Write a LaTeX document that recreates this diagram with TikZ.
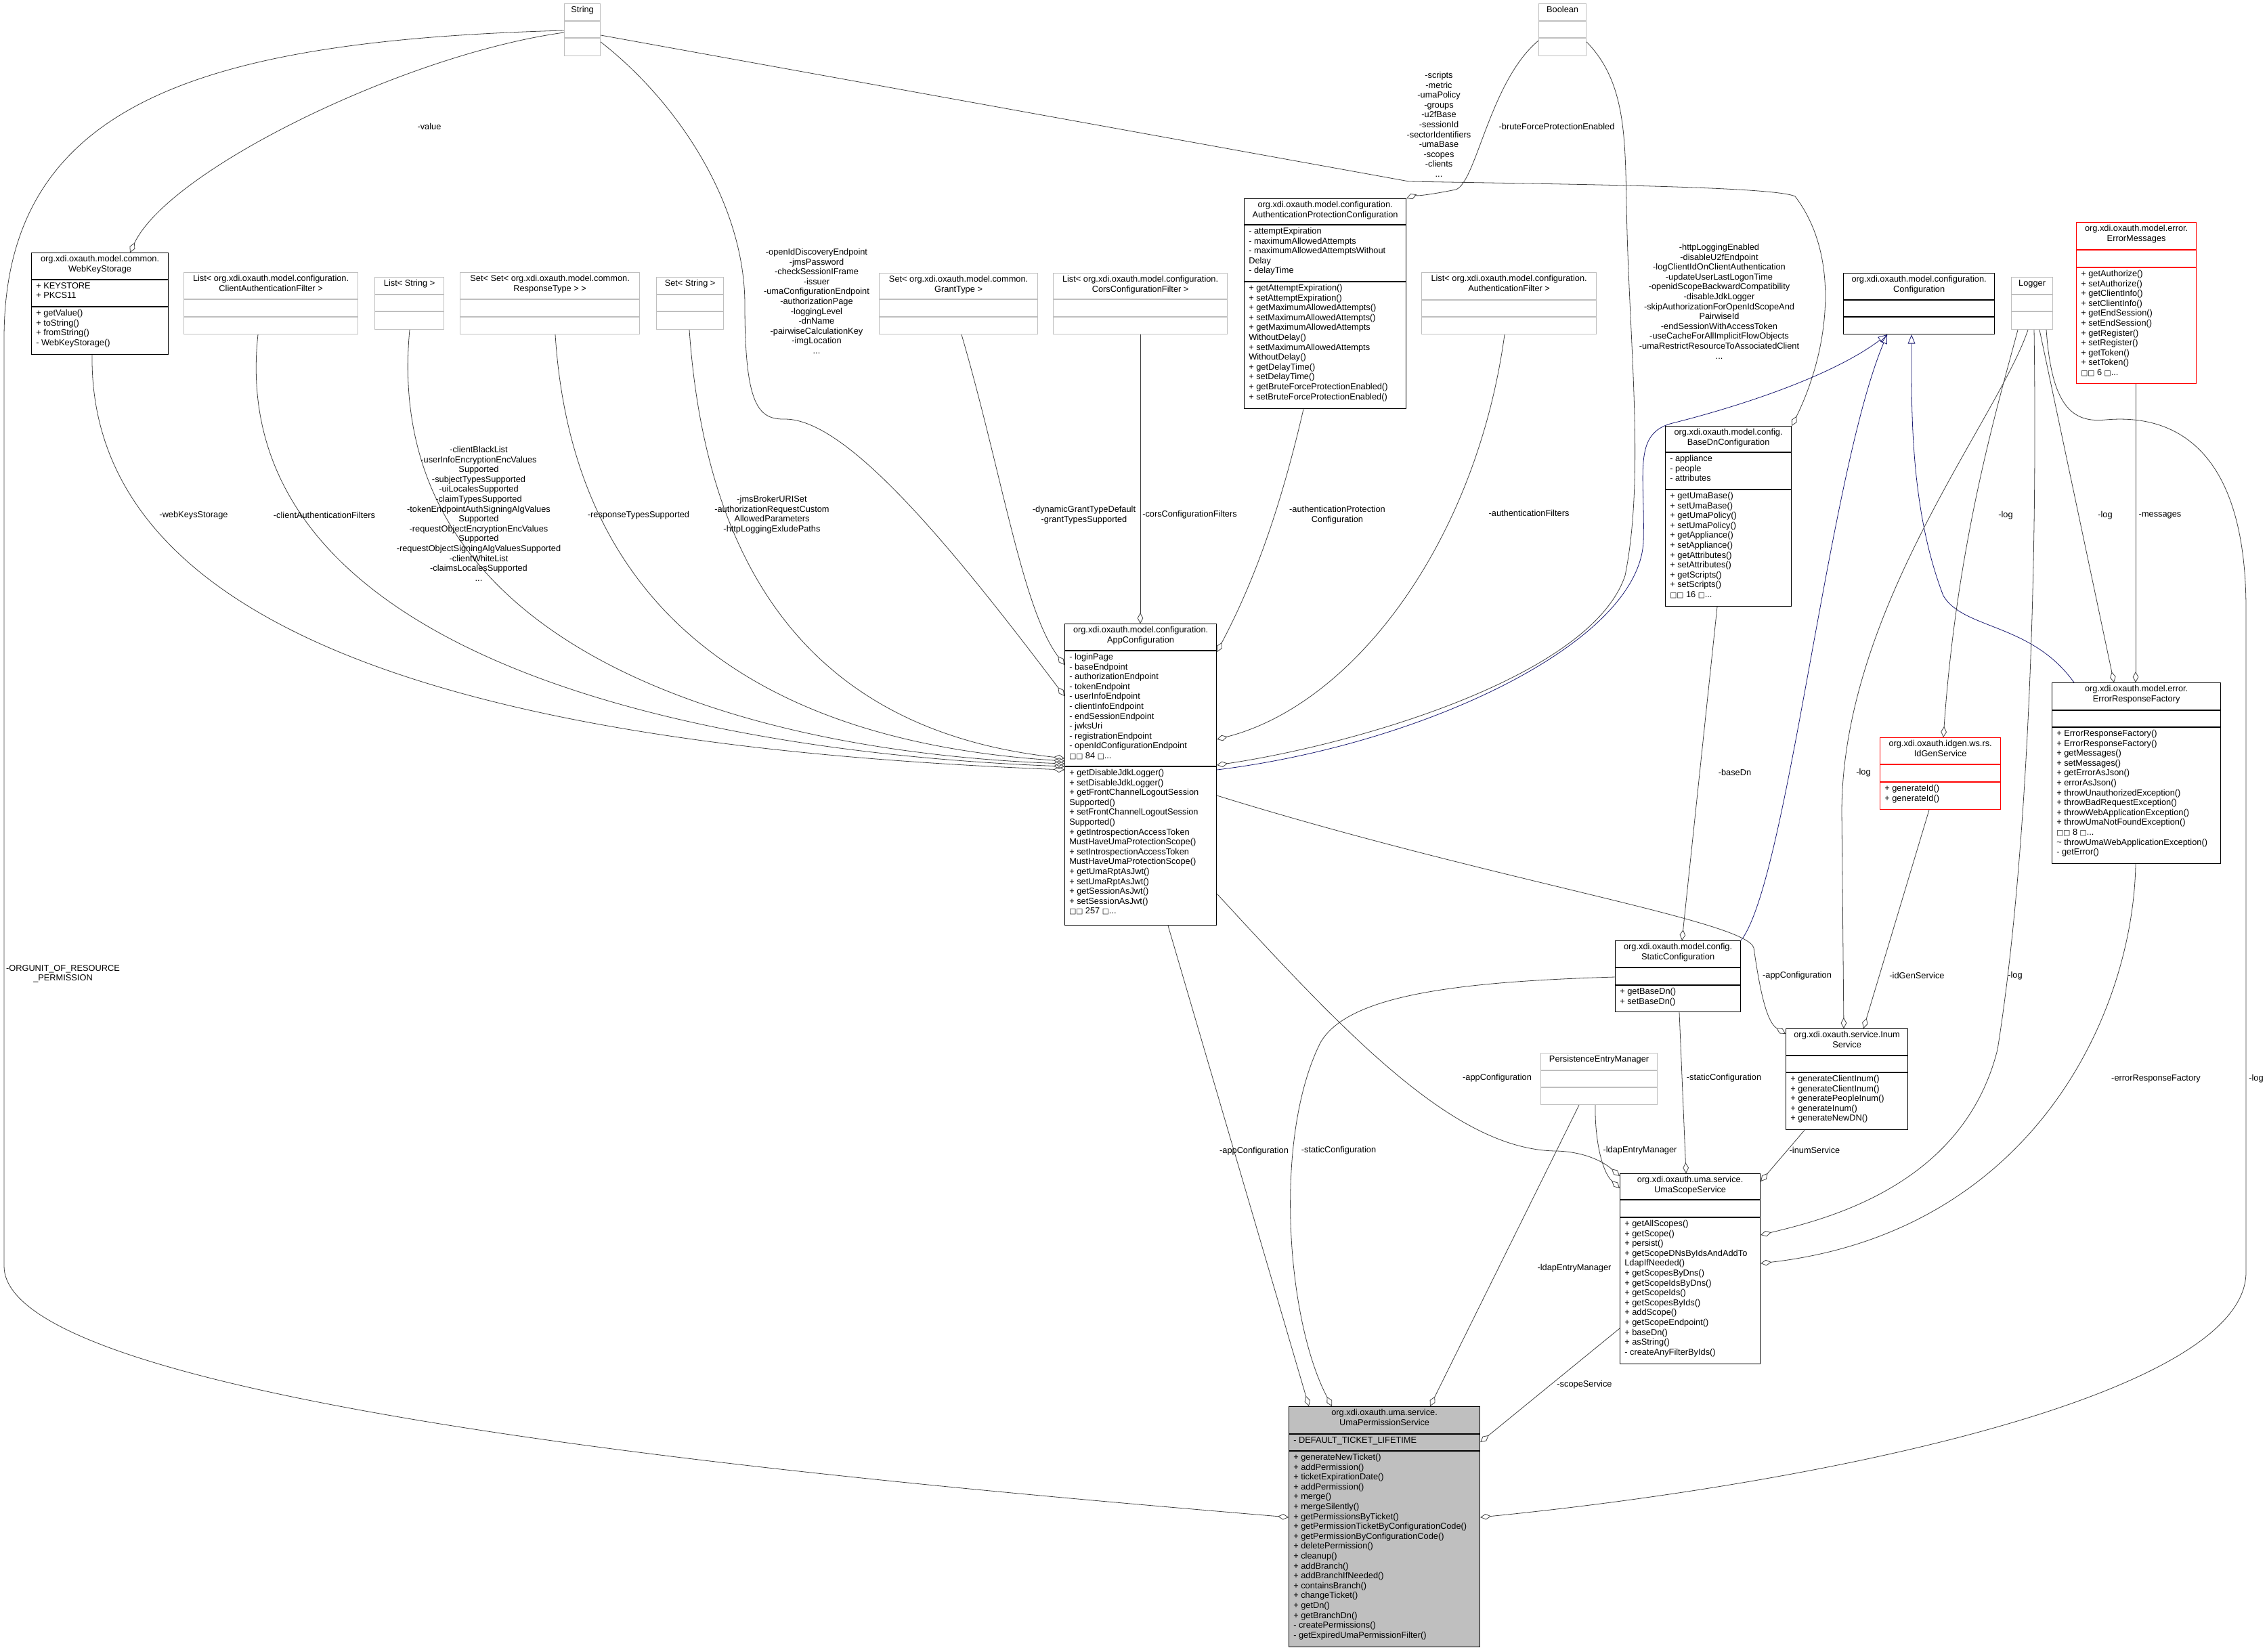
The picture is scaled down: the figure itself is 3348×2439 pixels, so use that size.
\documentclass[tikz,border=0pt]{standalone}
\usepackage{fontspec}
\setmainfont{Liberation Sans}
\newfontfamily\dv{DejaVu Sans}
\usetikzlibrary{arrows.meta,calc}
\definecolor{navy}{RGB}{25,25,112}
\definecolor{edgec}{RGB}{64,64,64}
\newcommand\tofu{{\dv\fontsize{8}{9}\selectfont\char"25A1}}
\tikzset{
 txt/.style={font=\fontsize{9.6}{10.95}\selectfont, inner sep=0},
 lab/.style={font=\fontsize{9.6}{10.95}\selectfont, inner sep=0, align=center},
 cb/.style={draw=black, line width=0.9pt},
 cg/.style={draw=black!25, line width=0.9pt},
 cr/.style={draw=red, line width=0.9pt},
 cf/.style={draw=black, fill=black!25, line width=0.9pt},
 agg/.style={draw=edgec, line width=0.6pt, -{Diamond[open,length=12pt,width=6.5pt]}},
 inh/.style={draw=navy, line width=0.6pt, -{Triangle[open,length=10pt,width=8pt]}},
}
\newcommand\cls[8]{%
 \pgfmathsetmacro\cw{(#4-#2)*0.75}\pgfmathsetmacro\ch{(#5-#3)*0.75}%
 \node[#8, minimum width=\cw pt, minimum height=\ch pt, anchor=north west, inner sep=0] (#1) at (#2,#3) {};%
 \draw[#8] (#2,#6) -- (#4,#6) (#2,#7) -- (#4,#7);}
\newcommand\ttl[2]{\node[txt, anchor=north, align=center] at ($(#1.north)+(0,4)$) {#2};}
\newcommand\mem[3]{\node[txt, anchor=north west, align=left] at (#1,#2) {#3};}
\begin{document}
\begin{tikzpicture}[x=0.75pt,y=-0.75pt]
\useasboundingbox (0,0) rectangle (3348,2439);
% ---------- classes ----------
\cls{str}{833}{5}{886}{82}{31}{56}{cg}\ttl{str}{String}
\cls{bool}{2272}{5}{2342}{82}{31}{56}{cg}\ttl{bool}{Boolean}
\cls{wks}{46}{373}{248}{523}{413}{453}{cb}\ttl{wks}{org.xdi.oxauth.model.common.\\WebKeyStorage}
\mem{53}{417}{+ KEYSTORE\\+ PKCS11}
\mem{53}{457}{+ getValue()\\+ toString()\\+ fromString()\\- WebKeyStorage()}
\cls{caf}{271}{402}{528}{493}{442}{468}{cg}\ttl{caf}{List< org.xdi.oxauth.model.configuration.\\ClientAuthenticationFilter >}
\cls{lstr}{553}{409}{655}{486}{435}{460}{cg}\ttl{lstr}{List< String >}
\cls{ssrt}{679}{402}{944}{493}{442}{468}{cg}\ttl{ssrt}{Set< Set< org.xdi.oxauth.model.common.\\ResponseType > >}
\cls{sstr}{969}{409}{1068}{486}{435}{460}{cg}\ttl{sstr}{Set< String >}
\cls{sgt}{1298}{403}{1532}{493}{442}{468}{cg}\ttl{sgt}{Set< org.xdi.oxauth.model.common.\\GrantType >}
\cls{ccf}{1555}{403}{1812}{493}{442}{468}{cg}\ttl{ccf}{List< org.xdi.oxauth.model.configuration.\\CorsConfigurationFilter >}
\cls{apc}{1837}{293}{2076}{603}{332}{416}{cb}\ttl{apc}{org.xdi.oxauth.model.configuration.\\AuthenticationProtectionConfiguration}
\mem{1844}{336}{- attemptExpiration\\- maximumAllowedAttempts\\- maximumAllowedAttemptsWithout\\Delay\\- delayTime}
\mem{1844}{420}{+ getAttemptExpiration()\\+ setAttemptExpiration()\\+ getMaximumAllowedAttempts()\\+ setMaximumAllowedAttempts()\\+ getMaximumAllowedAttempts\\WithoutDelay()\\+ setMaximumAllowedAttempts\\WithoutDelay()\\+ getDelayTime()\\+ setDelayTime()\\+ getBruteForceProtectionEnabled()\\+ setBruteForceProtectionEnabled()}
\cls{af}{2099}{402}{2357}{493}{443}{468}{cg}\ttl{af}{List< org.xdi.oxauth.model.configuration.\\AuthenticationFilter >}
\cls{cfg}{2722}{403}{2945}{493}{443}{468}{cb}\ttl{cfg}{org.xdi.oxauth.model.configuration.\\Configuration}
\cls{log}{2970}{409}{3031}{486}{435}{460}{cg}\ttl{log}{Logger}
\cls{em}{3066}{328}{3243}{566}{369}{395}{cr}\ttl{em}{org.xdi.oxauth.model.error.\\ErrorMessages}
\mem{3073}{399}{+ getAuthorize()\\+ setAuthorize()\\+ getClientInfo()\\+ setClientInfo()\\+ getEndSession()\\+ setEndSession()\\+ getRegister()\\+ setRegister()\\+ getToken()\\+ setToken()\\\tofu\tofu{} 6 \tofu...}
\cls{app}{1572}{921}{1796}{1366}{961}{1132}{cb}\ttl{app}{org.xdi.oxauth.model.configuration.\\AppConfiguration}
\mem{1579}{965}{- loginPage\\- baseEndpoint\\- authorizationEndpoint\\- tokenEndpoint\\- userInfoEndpoint\\- clientInfoEndpoint\\- endSessionEndpoint\\- jwksUri\\- registrationEndpoint\\- openIdConfigurationEndpoint\\\tofu\tofu{} 84 \tofu...}
\mem{1579}{1136}{+ getDisableJdkLogger()\\+ setDisableJdkLogger()\\+ getFrontChannelLogoutSession\\Supported()\\+ setFrontChannelLogoutSession\\Supported()\\+ getIntrospectionAccessToken\\MustHaveUmaProtectionScope()\\+ setIntrospectionAccessToken\\MustHaveUmaProtectionScope()\\+ getUmaRptAsJwt()\\+ setUmaRptAsJwt()\\+ getSessionAsJwt()\\+ setSessionAsJwt()\\\tofu\tofu{} 257 \tofu...}
\cls{bdn}{2459}{629}{2645}{895}{668}{723}{cb}\ttl{bdn}{org.xdi.oxauth.model.config.\\BaseDnConfiguration}
\mem{2466}{672}{- appliance\\- people\\- attributes}
\mem{2466}{727}{+ getUmaBase()\\+ setUmaBase()\\+ getUmaPolicy()\\+ setUmaPolicy()\\+ getAppliance()\\+ setAppliance()\\+ getAttributes()\\+ setAttributes()\\+ getScripts()\\+ setScripts()\\\tofu\tofu{} 16 \tofu...}
\cls{idg}{2776}{1089}{2954}{1195}{1129}{1155}{cr}\ttl{idg}{org.xdi.oxauth.idgen.ws.rs.\\IdGenService}
\mem{2783}{1159}{+ generateId()\\+ generateId()}
\cls{erf}{3030}{1008}{3279}{1275}{1049}{1074}{cb}\ttl{erf}{org.xdi.oxauth.model.error.\\ErrorResponseFactory}
\mem{3037}{1078}{+ ErrorResponseFactory()\\+ ErrorResponseFactory()\\+ getMessages()\\+ setMessages()\\+ getErrorAsJson()\\+ errorAsJson()\\+ throwUnauthorizedException()\\+ throwBadRequestException()\\+ throwWebApplicationException()\\+ throwUmaNotFoundException()\\\tofu\tofu{} 8 \tofu...\\\textasciitilde{} throwUmaWebApplicationException()\\- getError()}
\cls{stc}{2385}{1389}{2570}{1494}{1429}{1455}{cb}\ttl{stc}{org.xdi.oxauth.model.config.\\StaticConfiguration}
\mem{2392}{1459}{+ getBaseDn()\\+ setBaseDn()}
\cls{pem}{2275}{1555}{2447}{1631}{1581}{1606}{cg}\ttl{pem}{PersistenceEntryManager}
\cls{inum}{2637}{1519}{2817}{1668}{1559}{1584}{cb}\ttl{inum}{org.xdi.oxauth.service.Inum\\Service}
\mem{2644}{1588}{+ generateClientInum()\\+ generateClientInum()\\+ generatePeopleInum()\\+ generateInum()\\+ generateNewDN()}
\cls{uss}{2392}{1733}{2599}{2014}{1772}{1798}{cb}\ttl{uss}{org.xdi.oxauth.uma.service.\\UmaScopeService}
\mem{2399}{1802}{+ getAllScopes()\\+ getScope()\\+ persist()\\+ getScopeDNsByIdsAndAddTo\\LdapIfNeeded()\\+ getScopesByDns()\\+ getScopeIdsByDns()\\+ getScopeIds()\\+ getScopesByIds()\\+ addScope()\\+ getScopeEndpoint()\\+ baseDn()\\+ asString()\\- createAnyFilterByIds()}
\cls{ups}{1903}{2077}{2185}{2432}{2118}{2143}{cf}\ttl{ups}{org.xdi.oxauth.uma.service.\\UmaPermissionService}
\mem{1910}{2122}{- DEFAULT\_TICKET\_LIFETIME}
\mem{1910}{2147}{+ generateNewTicket()\\+ addPermission()\\+ ticketExpirationDate()\\+ addPermission()\\+ merge()\\+ mergeSilently()\\+ getPermissionsByTicket()\\+ getPermissionTicketByConfigurationCode()\\+ getPermissionByConfigurationCode()\\+ deletePermission()\\+ cleanup()\\+ addBranch()\\+ addBranchIfNeeded()\\+ containsBranch()\\+ changeTicket()\\+ getDn()\\+ getBranchDn()\\- createPermissions()\\- getExpiredUmaPermissionFilter()}
% ---------- connectors ----------
\draw[agg] (str.west|-0,48) .. controls (600,80) and (250,250) .. (192,0|-wks.north);
\draw[agg] (str.west|-0,45) .. controls (300,60) and (6,150) .. (6,500) -- (6,1870) .. controls (6,2080) and (1300,2190) .. (ups.west|-0,2241);
\draw[agg] (str.east|-0,62) .. controls (1000,150) and (1100,300) .. (1100,450) .. controls (1100,600) and (1120,620) .. (1160,619) .. controls (1250,620) and (1400,800) .. (app.west|-0,1028);
\draw[agg] (str.east|-0,52) -- (2081,268) .. controls (2300,272) and (2620,275) .. (2651,290) .. controls (2720,380) and (2700,520) .. (bdn.north east);
\draw[agg] (bool.west|-0,60) .. controls (2200,120) and (2180,270) .. (2150,280) .. controls (2100,290) and (2085,290) .. (apc.north east);
\draw[agg] (bool.east|-0,62) .. controls (2400,120) and (2400,200) .. (2402,300) .. controls (2405,500) and (2430,700) .. (2400,850) .. controls (2350,1000) and (2000,1100) .. (app.east|-0,1130);
\draw[inh] (app.east|-0,1137) .. controls (2100,1100) and (2420,950) .. (2427,800) .. controls (2430,700) and (2410,640) .. (2470,625) .. controls (2550,605) and (2700,560) .. (2787,0|-cfg.south);
\draw[inh] (stc.north east) .. controls (2640,1300) and (2700,700) .. (2787,0|-cfg.south);
\draw[inh] (3063,0|-erf.north) .. controls (3000,920) and (2900,930) .. (2870,880) .. controls (2820,750) and (2823,600) .. (2823,0|-cfg.south);
\draw[agg] (2980,0|-log.south) .. controls (2950,600) and (2890,800) .. (2870,0|-idg.north);
\draw[agg] (3012,0|-log.south) -- (3122,0|-erf.north);
\draw[agg] (2995,0|-log.south) .. controls (2950,620) and (2720,900) .. (2720,1200) -- (2723,0|-inum.north);
\draw[agg] (3004,0|-log.south) .. controls (3010,900) and (2990,1300) .. (2950,1550) .. controls (2900,1750) and (2700,1800) .. (uss.east|-0,1824);
\draw[agg] (3022,0|-log.south) .. controls (3030,600) and (3060,625) .. (3110,620) .. controls (3200,612) and (3317,650) .. (3317,900) -- (3317,1879) .. controls (3317,2060) and (2700,2190) .. (ups.east|-0,2241);
\draw[agg] (3154,0|-em.south) -- (3154,0|-erf.north);
\draw[agg] (2536,0|-bdn.south) -- (2484,0|-stc.north);
\draw[agg] (2849,0|-idg.south) -- (2752,0|-inum.north);
\draw[agg] (app.east|-0,1175) .. controls (2200,1300) and (2580,1360) .. (2590,1400) .. controls (2600,1470) and (2610,1510) .. (inum.west|-0,1527);
\draw[agg] (2480,0|-stc.south) -- (2490,0|-uss.north);
\draw[agg] (2356,0|-pem.south) .. controls (2355,1680) and (2365,1730) .. (uss.west|-0,1755);
\draw[agg] (app.east|-0,1320) .. controls (1990,1530) and (2150,1700) .. (2300,1700) .. controls (2350,1702) and (2375,1722) .. (uss.west|-0,1737);
\draw[agg] (2665,0|-inum.south) -- (uss.east|-0,1745);
\draw[agg] (3154,0|-erf.south) .. controls (3150,1500) and (3000,1820) .. (uss.east|-0,1866);
\draw[agg] (uss.west|-0,1962) -- (ups.east|-0,2130);
\draw[agg] (2332,0|-pem.south) -- (2112,0|-ups.north);
\draw[agg] (stc.west|-0,1443) .. controls (2150,1450) and (1990,1470) .. (1950,1540) .. controls (1880,1680) and (1900,1950) .. (1967,0|-ups.north);
\draw[agg] (1725,0|-app.south) -- (1933,0|-ups.north);
\draw[agg] (1684,0|-ccf.south) -- (1684,0|-app.north);
\draw[agg] (1420,0|-sgt.south) .. controls (1480,700) and (1510,900) .. (app.west|-0,982);
\draw[agg] (1925,0|-apc.south) .. controls (1880,800) and (1830,900) .. (app.east|-0,963);
\draw[agg] (2222,0|-af.south) .. controls (2180,800) and (2000,1040) .. (app.east|-0,1092);
\draw[agg] (136,0|-wks.south) .. controls (130,1000) and (900,1110) .. (app.west|-0,1137);
\draw[agg] (381,0|-caf.south) .. controls (330,960) and (1000,1110) .. (app.west|-0,1132);
\draw[agg] (605,0|-lstr.south) .. controls (560,960) and (1100,1110) .. (app.west|-0,1128);
\draw[agg] (820,0|-ssrt.south) .. controls (850,960) and (1200,1100) .. (app.west|-0,1124);
\draw[agg] (1018,0|-sstr.south) .. controls (1050,950) and (1300,1090) .. (app.west|-0,1120);
% ---------- labels ----------
\node[lab] at (634,187) {-value};
\node[lab, anchor=north] at (93,1425) {-ORGUNIT\_OF\_RESOURCE\\\_PERMISSION};
\node[lab, anchor=north] at (1206,367) {-openIdDiscoveryEndpoint\\-jmsPassword\\-checkSessionIFrame\\-issuer\\-umaConfigurationEndpoint\\-authorizationPage\\-loggingLevel\\-dnName\\-pairwiseCalculationKey\\-imgLocation\\...};
\node[lab, anchor=north] at (2125,106) {-scripts\\-metric\\-umaPolicy\\-groups\\-u2fBase\\-sessionId\\-sectorIdentifiers\\-umaBase\\-scopes\\-clients\\...};
\node[lab] at (2299,187) {-bruteForceProtectionEnabled};
\node[lab, anchor=north] at (2539,360) {-httpLoggingEnabled\\-disableU2fEndpoint\\-logClientIdOnClientAuthentication\\-updateUserLastLogonTime\\-openidScopeBackwardCompatibility\\-disableJdkLogger\\-skipAuthorizationForOpenIdScopeAnd\\PairwiseId\\-endSessionWithAccessToken\\-useCacheForAllImplicitFlowObjects\\-umaRestrictResourceToAssociatedClient\\...};
\node[lab] at (286,761) {-webKeysStorage};
\node[lab] at (479,761) {-clientAuthenticationFilters};
\node[lab, anchor=north] at (707,659) {-clientBlackList\\-userInfoEncryptionEncValues\\Supported\\-subjectTypesSupported\\-uiLocalesSupported\\-claimTypesSupported\\-tokenEndpointAuthSigningAlgValues\\Supported\\-requestObjectEncryptionEncValues\\Supported\\-requestObjectSigningAlgValuesSupported\\-clientWhiteList\\-claimsLocalesSupported\\...};
\node[lab] at (943,761) {-responseTypesSupported};
\node[lab, anchor=north] at (1140,732) {-jmsBrokerURISet\\-authorizationRequestCustom\\AllowedParameters\\-httpLoggingExludePaths};
\node[lab, anchor=north] at (1601,747) {-dynamicGrantTypeDefault\\-grantTypesSupported};
\node[lab, anchor=west] at (1687,760) {-corsConfigurationFilters};
\node[lab, anchor=north] at (1975,747) {-authenticationProtection\\Configuration};
\node[lab] at (2258,758) {-authenticationFilters};
\node[lab] at (2962,761) {-log};
\node[lab] at (3109,761) {-log};
\node[lab] at (3190,761) {-messages};
\node[lab] at (2562,1141) {-baseDn};
\node[lab] at (2752,1141) {-log};
\node[lab] at (2654,1441) {-appConfiguration};
\node[lab] at (2831,1441) {-idGenService};
\node[lab] at (2976,1441) {-log};
\node[lab] at (2546,1592) {-staticConfiguration};
\node[lab] at (2211,1592) {-appConfiguration};
\node[lab] at (3184,1593) {-errorResponseFactory};
\node[lab] at (3332,1593) {-log};
\node[lab] at (2422,1699) {-ldapEntryManager};
\node[lab] at (1977,1699) {-staticConfiguration};
\node[lab] at (1852,1700) {-appConfiguration};
\node[lab] at (2680,1699) {-inumService};
\node[lab] at (2325,1873) {-ldapEntryManager};
\node[lab] at (2340,2045) {-scopeService};
\end{tikzpicture}
\end{document}
